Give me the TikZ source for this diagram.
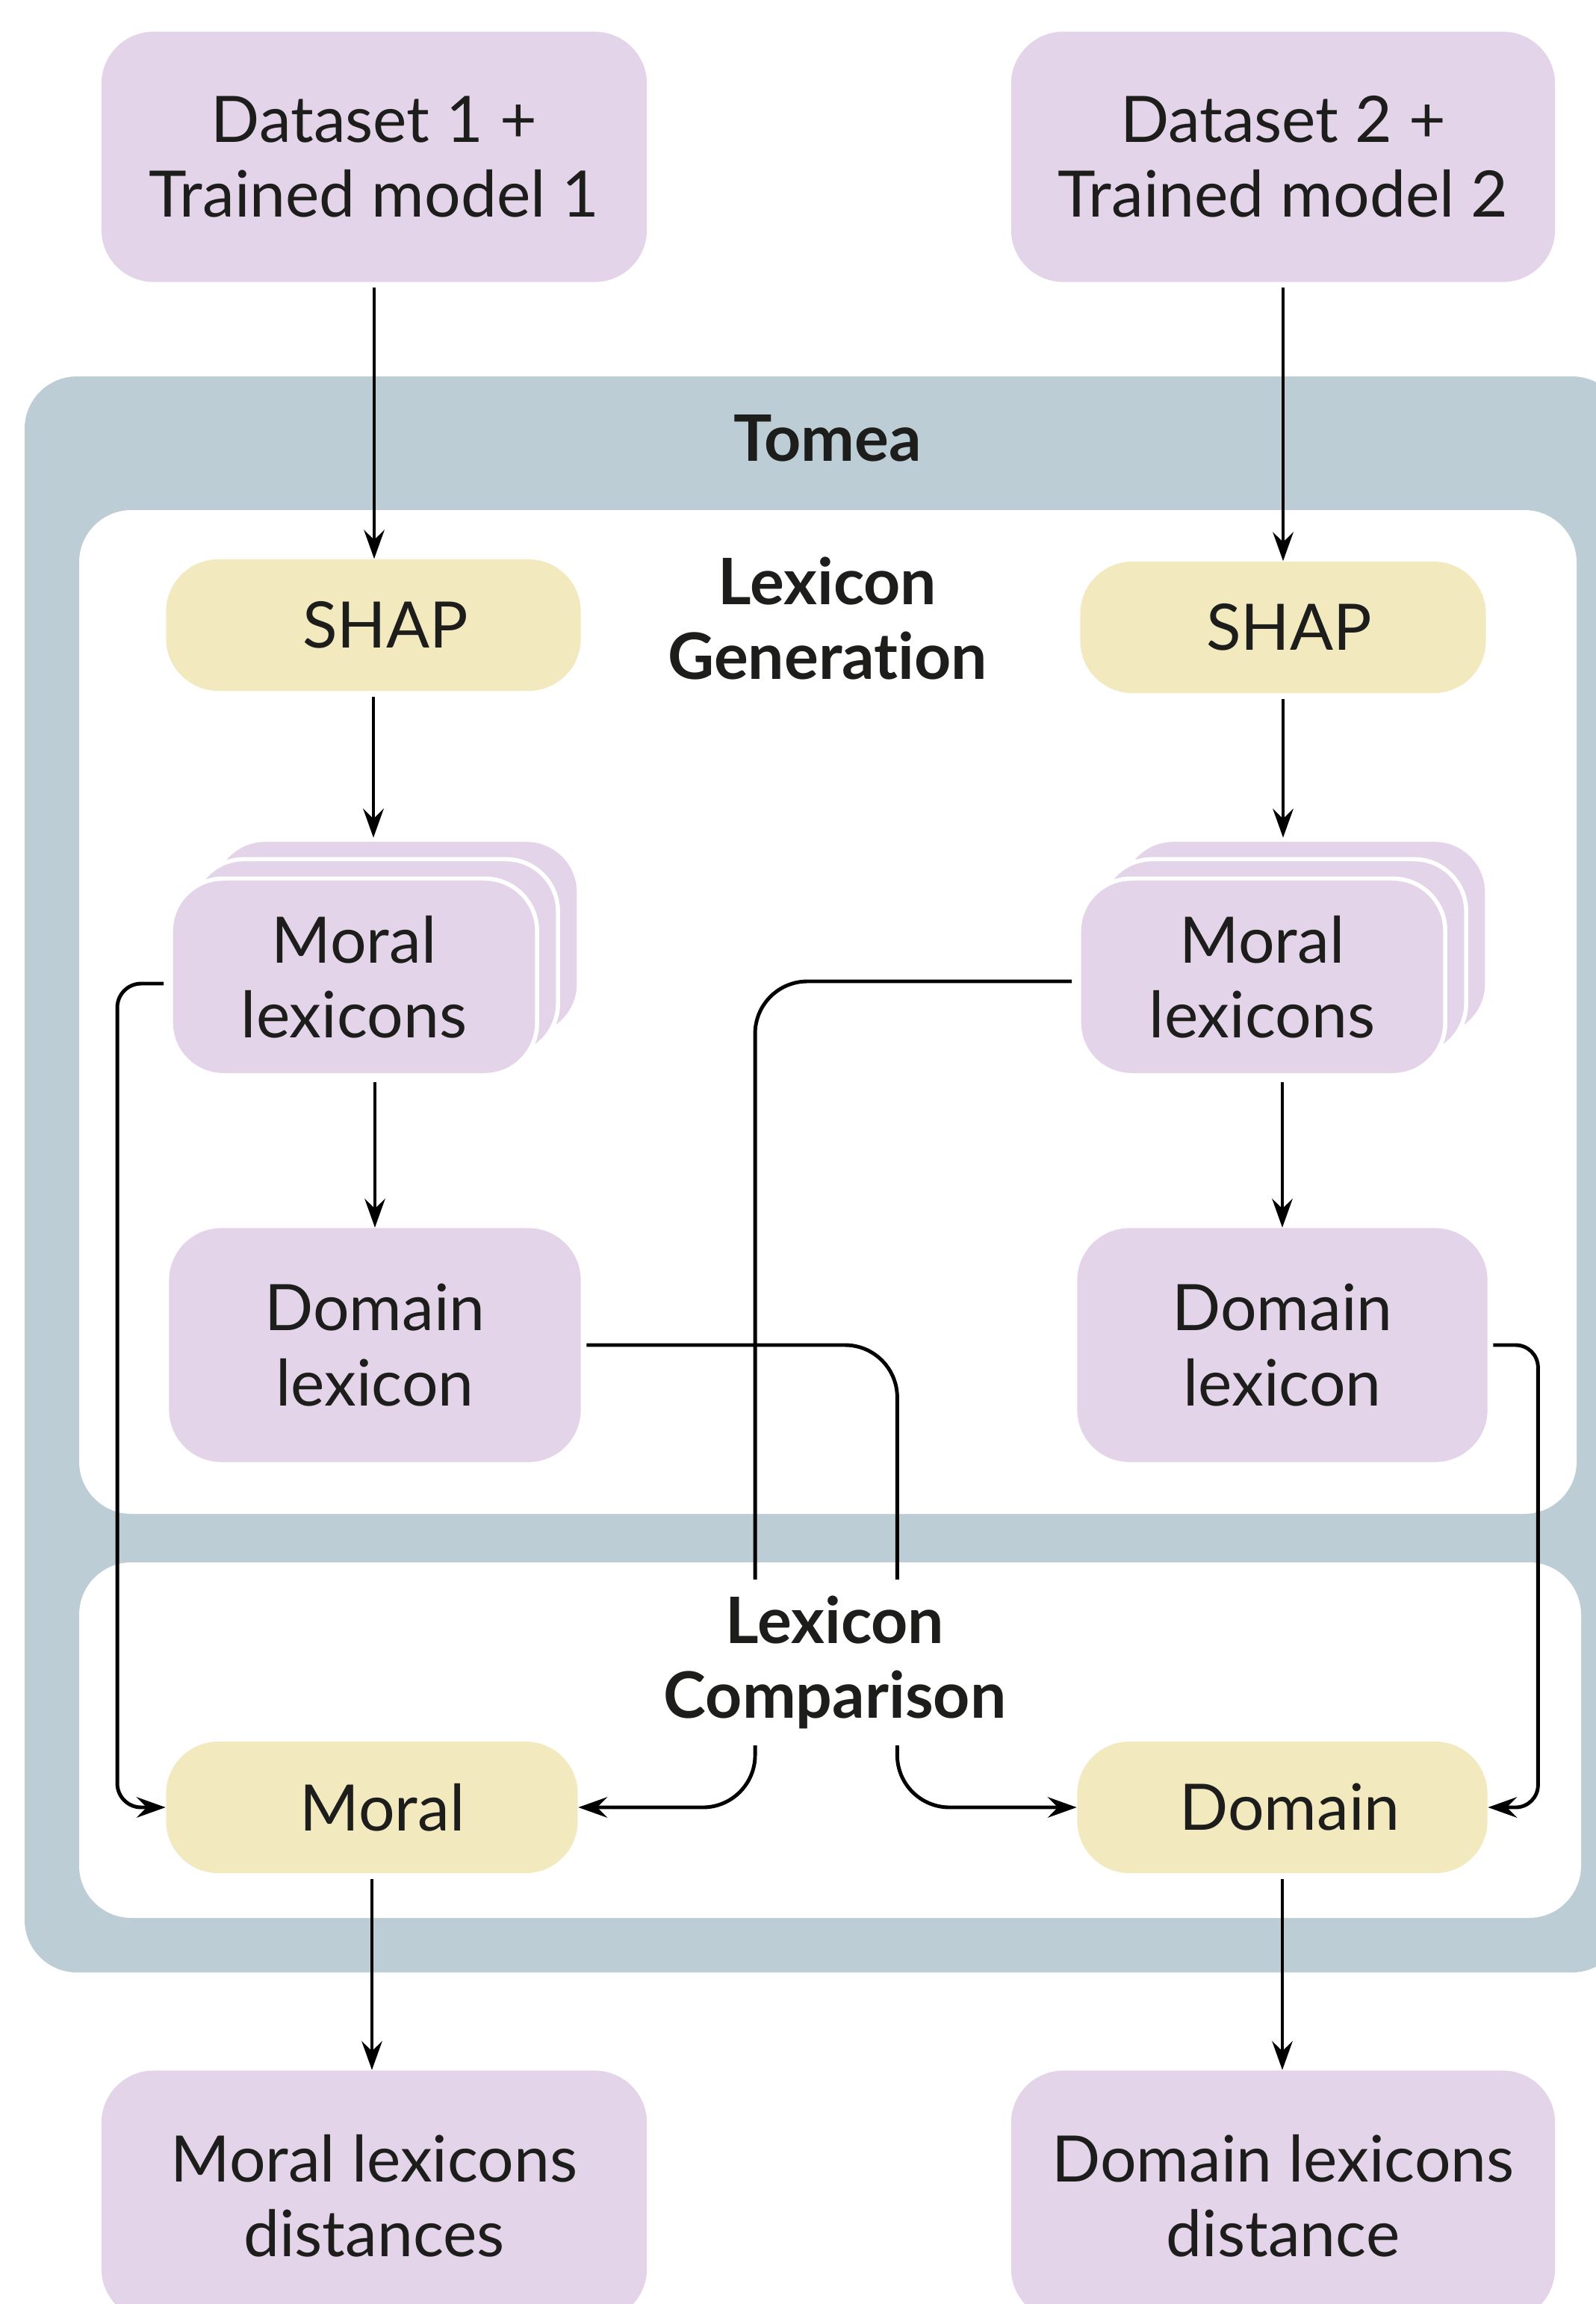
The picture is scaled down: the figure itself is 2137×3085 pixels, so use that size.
\documentclass[tikz,border=0pt]{standalone}
\usepackage{fontspec}
\setmainfont{Lato}[Ligatures=NoCommon]
\usetikzlibrary{arrows.meta,calc}
\definecolor{boxpurple}{HTML}{E4D4E9}
\definecolor{boxyellow}{HTML}{F2E9BE}
\definecolor{tomeablue}{HTML}{BDCDD5}
\definecolor{inkc}{HTML}{1D1D1B}
\begin{document}
\begin{tikzpicture}[x=0.01cm,y=-0.01cm,
 every node/.style={text=inkc, font=\fontsize{24.4}{28.5}\selectfont, align=center, inner sep=0pt},
 pbox/.style={fill=boxpurple, rounded corners=0.7cm},
 ybox/.style={fill=boxyellow, rounded corners=0.7cm, minimum height=1.76cm},
 layer/.style={fill=boxpurple, draw=white, line width=1.6pt, rounded corners=0.7cm, minimum width=4.9cm, minimum height=2.63cm},
 title/.style={font=\fontsize{24.4}{28.5}\selectfont\bfseries},
 conn/.style={draw=black, line width=1.4pt, -{Stealth[length=11pt,width=7.8pt,inset=3.8pt]}, shorten <=2pt},
]
\clip (0,0) rectangle (2137,3085);
% backgrounds
\fill[tomeablue, rounded corners=0.7cm] (33,504) rectangle (2175,2641);
\fill[white, rounded corners=0.7cm] (106,683) rectangle (2111,2027);
\fill[white, rounded corners=0.7cm] (106,2092) rectangle (2117,2568);
\node[title] (tomea) at (1108,587) {Tomea};
\node[title] (gen) at (1108,828) {Lexicon\\Generation};
% top boxes
\node[pbox, minimum width=7.3cm, minimum height=3.35cm] (ds1) at (501,210) {Dataset 1 +\\Trained model 1};
\node[pbox, minimum width=7.28cm, minimum height=3.35cm] (ds2) at (1718,210) {Dataset 2 +\\Trained model 2};
% SHAP
\node[ybox, minimum width=5.55cm] (shap1) at (500,837) {\hspace*{0.32cm}SHAP};
\node[ybox, minimum width=5.43cm] (shap2) at (1718,840) {\hspace*{0.16cm}SHAP};
% stacks
\node[layer] (mlA3) at (530,1256) {};
\node[layer] (mlA2) at (502,1282) {};
\node[layer] (mlA) at (474,1308) {Moral\\lexicons};
\node[layer] (mlB3) at (1746,1256) {};
\node[layer] (mlB2) at (1718,1282) {};
\node[layer] (mlB) at (1690,1308) {Moral\\lexicons};
% domain lexicons
\node[pbox, minimum width=5.51cm, minimum height=3.13cm] (dl1) at (502,1801) {Domain\\lexicon};
\node[pbox, minimum width=5.49cm, minimum height=3.13cm] (dl2) at (1717,1801) {Domain\\lexicon};
% comparison boxes
\node[ybox, minimum width=5.51cm] (moralY) at (498,2420) {\hspace*{0.28cm}Moral};
\node[ybox, minimum width=5.49cm] (domY) at (1717,2420) {\hspace*{0.2cm}Domain};
% outputs
\node[pbox, minimum width=7.3cm, minimum height=3.35cm] (dist1) at (501,2940) {Moral lexicons\\distances};
\node[pbox, minimum width=7.28cm, minimum height=3.35cm] (dist2) at (1718,2940) {Domain lexicons\\distance};
% connectors
\draw[conn] (ds1.south) -- (ds1.south |- shap1.north);
\draw[conn] (ds2.south) -- (ds2.south |- shap2.north);
\draw[conn] (shap1.south) -- (shap1.south |- mlA3.north);
\draw[conn] (shap2.south) -- (shap2.south |- mlB3.north);
\draw[conn] (dl1.north |- mlA.south) -- (dl1.north);
\draw[conn] (dl2.north |- mlB.south) -- (dl2.north);
\draw[conn, rounded corners=0.32cm] ([yshift=-0.09cm]mlA.west) -- ++(-69,0) |- (moralY.west);
\draw[conn, rounded corners=0.7cm] ([yshift=-0.06cm]mlB.west) -- ++(-431,0) |- (moralY.east);
\draw[conn, rounded corners=0.7cm] (dl1.east) -- ++(423,0) |- (domY.west);
\draw[conn, rounded corners=0.3cm] (dl2.east) -- ++(67,0) |- (domY.east);
\draw[conn] (moralY.south) -- (moralY.south |- dist1.north);
\draw[conn] (domY.south) -- (domY.south |- dist2.north);
\node[title, fill=white, minimum height=2.21cm, inner xsep=4pt] (cmp) at (1118,2226) {Lexicon\\Comparison};
\end{tikzpicture}
\end{document}
